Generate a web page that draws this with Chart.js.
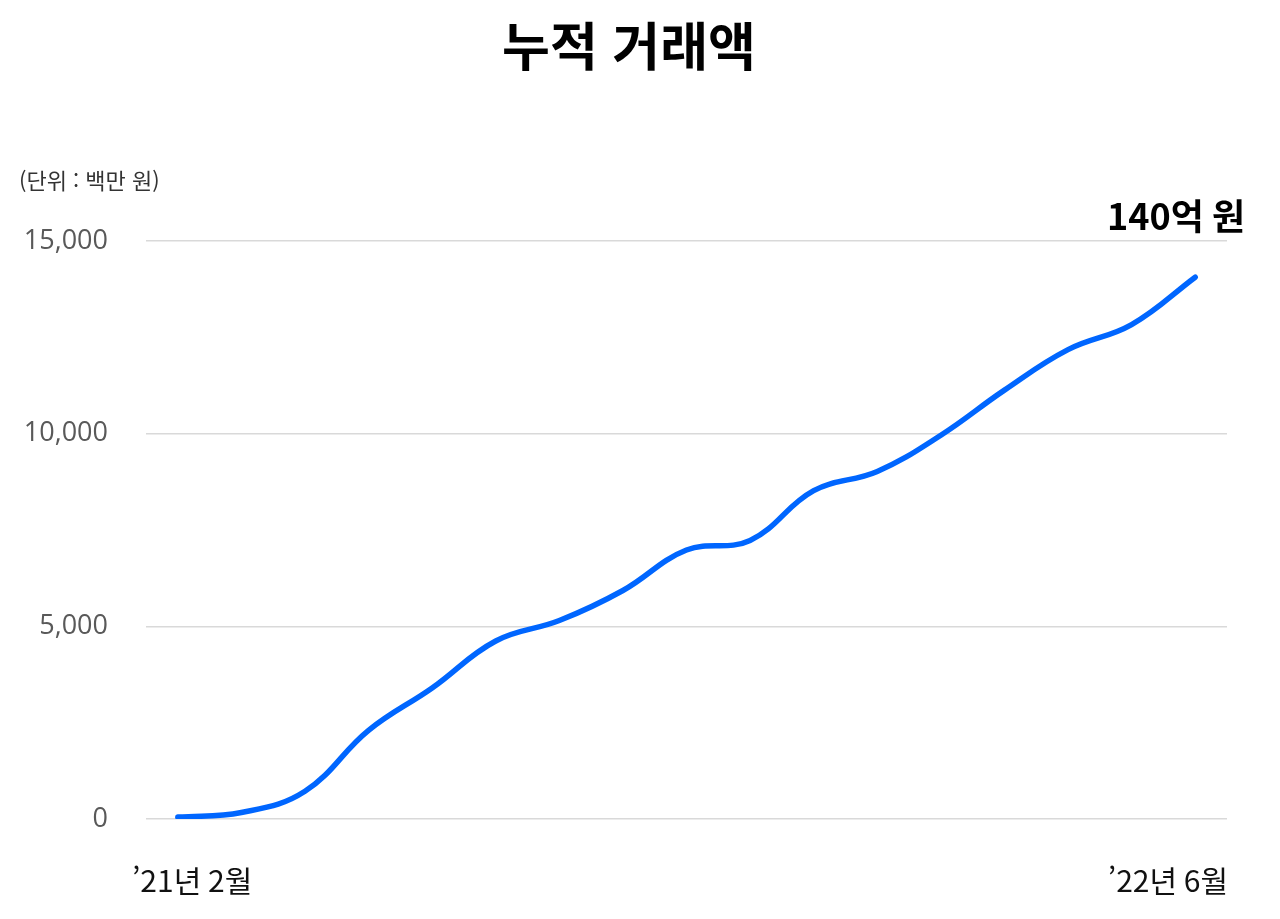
<!DOCTYPE html>
<html lang="ko">
<head>
<meta charset="utf-8">
<title>누적 거래액</title>
<script src="https://cdn.jsdelivr.net/npm/chart.js@4"></script>
<style>
    html, body { margin: 0; padding: 0; background: #fff; }
    #wrap { position: relative; width: 1280px; height: 919px; }
    #title {
        position: absolute; left: 0; width: 1258px; top: 6px;
        text-align: center; font: 700 52px 'Noto Sans CJK KR', sans-serif; color: #000;
    }
    #unit {
        position: absolute; left: 19px; top: 163px;
        font: 400 22px 'Noto Sans CJK KR', sans-serif; color: #333;
    }
</style>
</head>
<body>
<div id="wrap">
    <canvas id="chart" width="1280" height="919"></canvas>
    <div id="title">누적 거래액</div>
    <div id="unit">(단위 : 백만 원)</div>
</div>
<script>
// months from '21년 2월 to '22년 6월
const months = ['21.02', '21.03', '21.04', '21.05', '21.06', '21.07', '21.08', '21.09', '21.10',
                '21.11', '21.12', '22.01', '22.02', '22.03', '22.04', '22.05', '22.06'];
// cumulative amount, million won
const cumulative = [50, 170, 720, 2300, 3400, 4620, 5150, 5930, 6980,
                    7230, 8520, 9020, 9960, 11130, 12180, 12830, 14060];
const yTicks = [0, 5000, 10000, 15000];
const firstLabel = '\u201921년 2월';
const lastLabel = '\u201922년 6월';
const endLabel = '140억 원';

const edgeLabels = {
    id: 'edgeLabels',
    afterDraw(chart) {
        const ctx = chart.ctx;
        const area = chart.chartArea;
        const meta = chart.getDatasetMeta(0);
        const last = meta.data[meta.data.length - 1];
        ctx.save();
        ctx.fillStyle = '#111';
        ctx.font = "400 30px 'Noto Sans CJK KR', sans-serif";
        ctx.textBaseline = 'middle';
        ctx.textAlign = 'left';
        ctx.fillText(firstLabel, area.left - 14, area.bottom + 62);
        ctx.textAlign = 'right';
        ctx.fillText(lastLabel, area.right + 1, area.bottom + 62);

        ctx.fillStyle = '#000';
        ctx.font = "700 36px 'Noto Sans CJK KR', sans-serif";
        ctx.textAlign = 'right';
        ctx.fillText(endLabel, last.x + 50, last.y - 61);
        ctx.restore();
    }
};

new Chart(document.getElementById('chart').getContext('2d'), {
    type: 'line',
    data: {
        labels: months,
        datasets: [{
            data: cumulative,
            borderColor: '#0066ff',
            borderWidth: 5.5,
            borderCapStyle: 'round',
            tension: 0.4,
            pointRadius: 0,
            fill: false
        }]
    },
    options: {
        responsive: false,
        animation: false,
        layout: { padding: { top: 241, right: 53, bottom: 92, left: 0 } },
        plugins: {
            legend: { display: false },
            tooltip: { enabled: false }
        },
        scales: {
            x: {
                offset: true,
                grid: { display: false },
                border: { display: false },
                ticks: { display: false }
            },
            y: {
                min: 0,
                max: 15000,
                afterFit(scale) { scale.width = 146; },
                afterBuildTicks(scale) { scale.ticks = yTicks.map(v => ({ value: v })); },
                grid: { color: '#d9d9d9', lineWidth: 1.5, drawTicks: false },
                border: { display: false },
                ticks: {
                    padding: 38,
                    color: '#595959',
                    font: { family: "'Open Sans', sans-serif", size: 27 },
                    callback: v => v.toLocaleString('en-US')
                }
            }
        }
    },
    plugins: [edgeLabels]
});
</script>
</body>
</html>
